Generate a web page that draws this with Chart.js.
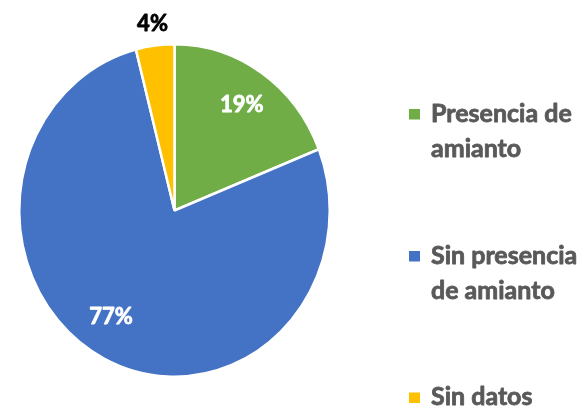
<!DOCTYPE html>
<html>
<head>
<meta charset="utf-8">
<script src="https://cdn.jsdelivr.net/npm/chart.js@4.4.1/dist/chart.umd.min.js"></script>
<style>
  html, body { margin: 0; padding: 0; background: #ffffff; }
  #wrap { width: 582px; height: 409px; }
</style>
</head>
<body>
<div id="wrap"><canvas id="c" width="582" height="409"></canvas></div>
<script>
// ---- data ----
const categories = ["Presencia de amianto", "Sin presencia de amianto", "Sin datos"];
const legendLines = [["Presencia de", "amianto"], ["Sin presencia", "de amianto"], ["Sin datos"]];
const values = [19, 77, 4];
const percentLabels = ["19%", "77%", "4%"];

// ---- style ----
const colors = ["#70AD47", "#4472C4", "#FFC000"];
const labelColors = ["#FFFFFF", "#FFFFFF", "#000000"];
const labelRadiusFactor = [0.77, 0.76, 1.13];
const labelAngleShiftDeg = [0, 5.6, 0];
const yStretch = 1.071;
const legendX = 409, legendTextX = 431, legendBox = 11;
const legendFirstBaselines = [121.5, 263.5, 405];
const legendLineGap = 35;
const legendFont = "bold 25px Lato";
const labelFont = "bold 22px Lato";

const ellipsePlugin = {
  id: 'ellipse',
  beforeDatasetsDraw(chart) {
    const arc = chart.getDatasetMeta(0).data[0];
    const ctx = chart.ctx;
    ctx.save();
    ctx.translate(arc.x, arc.y);
    ctx.scale(1, yStretch);
    ctx.translate(-arc.x, -arc.y);
  },
  afterDatasetsDraw(chart) {
    chart.ctx.restore();
  }
};

function heavyText(ctx, text, x, y, color) {
  ctx.fillStyle = color;
  ctx.strokeStyle = color;
  ctx.lineWidth = 0.8;
  ctx.lineJoin = 'round';
  ctx.fillText(text, x, y);
  ctx.strokeText(text, x, y);
}

const labelsPlugin = {
  id: 'customLabels',
  afterDraw(chart) {
    const ctx = chart.ctx;
    const meta = chart.getDatasetMeta(0);
    ctx.save();
    ctx.font = labelFont;
    ctx.textAlign = 'center';
    ctx.textBaseline = 'middle';
    meta.data.forEach((arc, i) => {
      const p = arc.getProps(['x', 'y', 'startAngle', 'endAngle', 'outerRadius'], true);
      const mid = (p.startAngle + p.endAngle) / 2 + labelAngleShiftDeg[i] * Math.PI / 180;
      const r = p.outerRadius * labelRadiusFactor[i];
      const lx = p.x + Math.cos(mid) * r;
      const ly = p.y + Math.sin(mid) * r * yStretch;
      heavyText(ctx, percentLabels[i], lx, ly, labelColors[i]);
    });
    ctx.restore();

    // legend
    ctx.save();
    ctx.font = legendFont;
    ctx.textAlign = 'left';
    ctx.textBaseline = 'alphabetic';
    legendLines.forEach((lines, i) => {
      const base = legendFirstBaselines[i];
      ctx.fillStyle = colors[i];
      ctx.fillRect(legendX, base - 12.5, legendBox, 10.5);
      lines.forEach((line, j) => {
        heavyText(ctx, line, legendTextX, base + j * legendLineGap, '#595959');
      });
    });
    ctx.restore();
  }
};

new Chart(document.getElementById('c'), {
  type: 'pie',
  data: {
    labels: categories,
    datasets: [{
      data: values,
      backgroundColor: colors,
      borderColor: '#FFFFFF',
      borderWidth: 2.5
    }]
  },
  options: {
    responsive: false,
    animation: false,
    layout: { padding: { left: 18, right: 251, top: 54, bottom: 42 } },
    plugins: { legend: { display: false }, tooltip: { enabled: false } }
  },
  plugins: [ellipsePlugin, labelsPlugin]
});
</script>
</body>
</html>
